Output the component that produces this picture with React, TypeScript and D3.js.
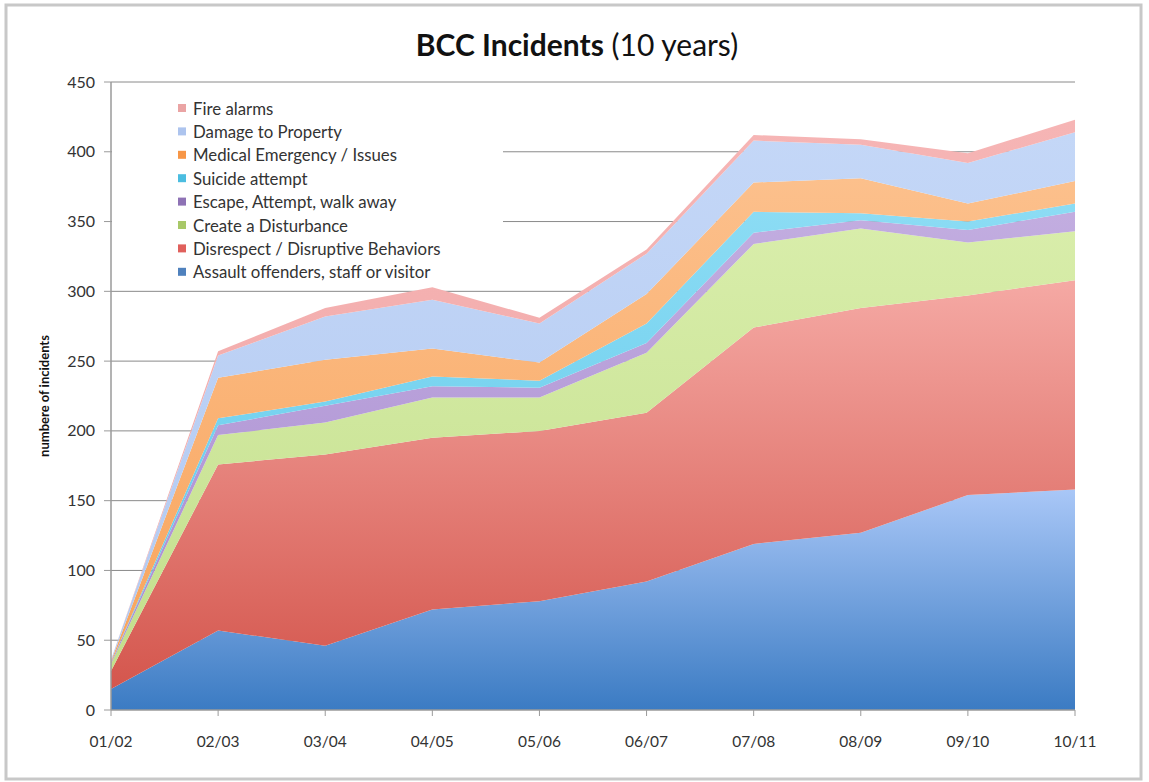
import React from "react";
import * as d3 from "d3";

const years = ["01/02", "02/03", "03/04", "04/05", "05/06", "06/07", "07/08", "08/09", "09/10", "10/11"];

const assault = [15, 57, 46, 72, 78, 92, 119, 127, 154, 158];
const disrespect = [13, 119, 137, 123, 122, 121, 155, 161, 143, 150];
const disturbance = [5, 21, 23, 29, 24, 43, 60, 57, 38, 35];
const escape = [1, 7, 12, 8, 7, 7, 8, 6, 9, 14];
const suicide = [0, 5, 3, 7, 5, 14, 15, 5, 6, 6];
const medical = [1, 29, 30, 20, 13, 21, 21, 25, 13, 16];
const damage = [1, 16, 31, 35, 28, 29, 30, 24, 29, 35];
const fire = [0, 3, 6, 9, 4, 3, 4, 4, 7, 9];

const seriesNames = [
  "Assault offenders, staff or visitor",
  "Disrespect / Disruptive Behaviors",
  "Create a Disturbance",
  "Escape, Attempt, walk away",
  "Suicide attempt",
  "Medical Emergency / Issues",
  "Damage to Property",
  "Fire alarms",
];
const seriesValues = [assault, disrespect, disturbance, escape, suicide, medical, damage, fire];

const yTicks = [0, 50, 100, 150, 200, 250, 300, 350, 400, 450];

// gradient stops per series: [top, bottom], legend swatch colour
const topColors = ["#a9c7f7", "#f5a9a4", "#d8edaa", "#c2ade0", "#8cdcf4", "#fcc08c", "#c4d7f7", "#f6b5b5"];
const bottomColors = ["#3b7bc3", "#d4564d", "#c3df8c", "#a98cd0", "#5fc8ea", "#f8a45c", "#b2c9f1", "#f0a6a6"];
const swatchColors = ["#4f81bd", "#e0605c", "#a8c868", "#8e72b5", "#4bbde0", "#f79646", "#adc4ee", "#eaa4a4"];

const W = 1149;
const H = 782;
const font = "Lato, 'Open Sans', sans-serif";

export default function App() {
  const x = d3.scalePoint<string>().domain(years).range([111, 1075]);
  const y = d3.scaleLinear().domain([0, 450]).range([710, 82]);

  const rows = years.map((yr, i) => {
    const r: any = { year: yr };
    seriesNames.forEach((n, k) => (r[n] = seriesValues[k][i]));
    return r;
  });
  const stacked = d3.stack<any>().keys(seriesNames)(rows);

  const area = d3
    .area<any>()
    .x((d) => x(d.data.year) as number)
    .y0((d) => y(d[0]))
    .y1((d) => y(d[1]));

  const legendOrder = seriesNames.map((_, i) => i).reverse();

  return (
    <svg width={W} height={H} style={{ position: "absolute", left: 0, top: 0, background: "#fff" }}>
      <defs>
        {seriesNames.map((_, i) => (
          <linearGradient key={i} id={"g" + i} x1="0" y1="0" x2="0" y2="1">
            <stop offset="0%" stopColor={topColors[i]} />
            <stop offset="100%" stopColor={bottomColors[i]} />
          </linearGradient>
        ))}
      </defs>

      <rect x={6} y={5} width={1135} height={774} fill="#fff" stroke="#c8c8c8" strokeWidth={3} />

      <text x={577} y={56} textAnchor="middle" fontFamily={font} fontSize={30} fill="#111">
        <tspan fontWeight="bold">BCC Incidents</tspan>
        <tspan> (10 years)</tspan>
      </text>

      {/* gridlines */}
      {yTicks.slice(1).map((t) => (
        <line key={t} x1={111} x2={1075} y1={y(t)} y2={y(t)} stroke="#8a8a8a" strokeWidth={1} />
      ))}

      {/* areas */}
      {stacked.map((s, i) => (
        <path key={s.key} d={area(s) || ""} fill={`url(#g${i})`} />
      ))}

      {/* axes */}
      <line x1={111} x2={111} y1={82} y2={710} stroke="#9a9a9a" strokeWidth={1.5} />
      <line x1={111} x2={1075} y1={710} y2={710} stroke="#9a9a9a" strokeWidth={1.5} />
      {yTicks.map((t) => (
        <g key={t}>
          <line x1={104} x2={111} y1={y(t)} y2={y(t)} stroke="#9a9a9a" />
          <text x={95} y={y(t) + 5.5} textAnchor="end" fontFamily={font} fontSize={16} fill="#333">
            {t}
          </text>
        </g>
      ))}
      {years.map((yr) => (
        <g key={yr}>
          <line x1={x(yr)} x2={x(yr)} y1={710} y2={716} stroke="#9a9a9a" />
          <text x={x(yr)} y={747} textAnchor="middle" fontFamily={font} fontSize={15.5} fill="#333">
            {yr}
          </text>
        </g>
      ))}

      <text
        transform={`translate(49,396) rotate(-90)`}
        textAnchor="middle"
        fontFamily={font}
        fontSize={13}
        fontWeight="bold"
        fill="#111"
      >
        numbere of incidents
      </text>

      {/* legend */}
      <rect x={112} y={92} width={391} height={193} fill="#fff" />
      {legendOrder.map((k, j) => (
        <g key={k} transform={`translate(178,${109 + j * 23.4})`}>
          <rect x={0} y={-5} width={8} height={8} fill={swatchColors[k]} />
          <text x={15} y={5.5} fontFamily={font} fontSize={16.8} fill="#333">
            {seriesNames[k]}
          </text>
        </g>
      ))}
    </svg>
  );
}
